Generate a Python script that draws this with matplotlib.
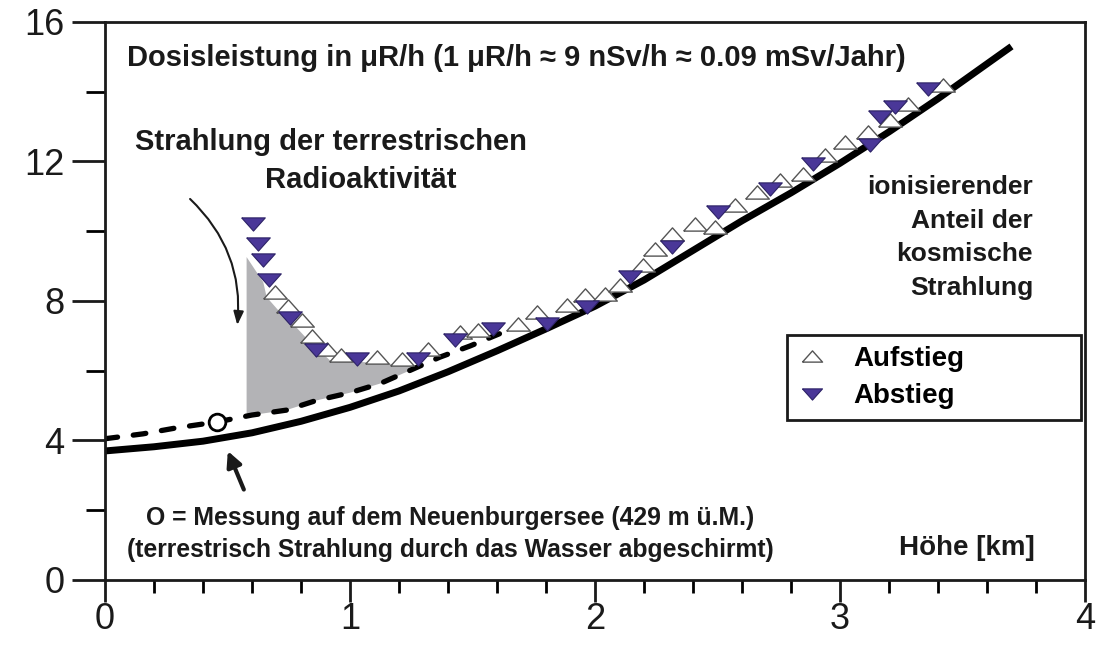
import numpy as np
import matplotlib.pyplot as plt
from matplotlib.ticker import MultipleLocator

plt.rcParams['font.family'] = ['Liberation Sans', 'DejaVu Sans']

# Messpunkte beim Aufstieg (offene Dreiecke)
auf_x = [0.694, 0.748, 0.803, 0.846, 0.905, 0.962, 1.109, 1.211, 1.320, 1.449,
         1.524, 1.687, 1.762, 1.884, 1.959, 2.041, 2.102, 2.197, 2.245, 2.313,
         2.408, 2.490, 2.571, 2.660, 2.755, 2.850, 2.939, 3.020, 3.116, 3.204,
         3.279, 3.422]
auf_y = [8.27, 7.87, 7.45, 7.00, 6.63, 6.44, 6.39, 6.33, 6.63, 7.11,
         7.16, 7.35, 7.68, 7.88, 8.16, 8.21, 8.45, 9.02, 9.50, 9.93,
         10.22, 10.12, 10.74, 11.13, 11.46, 11.65, 12.18, 12.56, 12.85, 13.18,
         13.66, 14.18]

# Messpunkte beim Abstieg (gefuellte Dreiecke)
ab_x = [0.605, 0.626, 0.644, 0.671, 0.755, 0.861, 1.027, 1.279, 1.429, 1.585,
        1.803, 1.966, 2.143, 2.313, 2.503, 2.714, 2.891, 3.122, 3.163, 3.224,
        3.361]
ab_y = [10.22, 9.63, 9.17, 8.61, 7.50, 6.59, 6.33, 6.35, 6.87, 7.21,
        7.35, 7.83, 8.69, 9.55, 10.55, 11.22, 11.94, 12.46, 13.28, 13.56,
        14.09]

# kosmische Strahlung (durchgezogen)
kosm_x = [0, 0.2, 0.4, 0.6, 0.8, 1.0, 1.2, 1.4, 1.6, 1.8, 2.0, 2.2, 2.4, 2.6,
          2.8, 3.0, 3.2, 3.4, 3.7]
kosm_y = [3.70, 3.82, 3.98, 4.22, 4.55, 4.95, 5.42, 5.97, 6.57, 7.20, 7.85,
          8.60, 9.45, 10.30, 11.10, 11.95, 12.85, 13.80, 15.30]

# gestrichelte Kurve
dash_x = [0, 0.155, 0.29, 0.456, 0.60, 0.74, 0.864, 1.0, 1.122, 1.245, 1.367,
          1.49, 1.61]
dash_y = [4.05, 4.19, 4.36, 4.53, 4.73, 4.87, 5.15, 5.37, 5.63, 6.01, 6.39,
          6.71, 7.06]

# Messung auf dem Neuenburgersee
see_x = [0.456]
see_y = [4.53]

# graue Flaeche (terrestrischer Anteil)
area_top_x = [0.578, 0.646, 0.66, 0.714, 0.78, 0.837, 0.918, 1.05, 1.245, 1.26]
area_top_y = [9.26, 8.54, 8.11, 7.68, 7.25, 6.82, 6.30, 6.25, 6.16, 6.02]
area_bot_x = [1.245, 1.122, 1.0, 0.864, 0.74, 0.6, 0.578]
area_bot_y = [6.01, 5.63, 5.37, 5.15, 4.87, 4.73, 4.70]

purple = '#4a3798'
up_tri = [(-1, -0.56), (1, -0.56), (0, 0.56), (-1, -0.56)]
down_tri = [(-1, 0.56), (1, 0.56), (0, -0.56), (-1, 0.56)]

fig = plt.figure(figsize=(11.04, 6.45), dpi=100)
ax = fig.add_axes([0.0951, 0.1008, 0.8877, 0.8651])

ax.fill(area_top_x + area_bot_x, area_top_y + area_bot_y,
        color='#b3b3b6', lw=0, zorder=1)
ax.plot(kosm_x, kosm_y, color='black', lw=5, solid_capstyle='butt',
        solid_joinstyle='round', zorder=2)
ax.plot(dash_x, dash_y, color='black', lw=3.8, dashes=(2.4, 3.0),
        dash_capstyle='round', zorder=2)
ax.plot(see_x, see_y, 'o', ms=12, mfc='white', mec='black', mew=2, zorder=3)

ax.plot(auf_x, auf_y, ls='none', marker=up_tri, ms=17, mfc='white',
        mec='#555555', mew=1, zorder=4, label='Aufstieg')
ax.plot(ab_x, ab_y, ls='none', marker=down_tri, ms=17, mfc=purple,
        mec='#2c2266', mew=0.8, zorder=5, label='Abstieg')

ax.set_xlim(0, 4)
ax.set_ylim(0, 16)
ax.xaxis.set_major_locator(MultipleLocator(1))
ax.xaxis.set_minor_locator(MultipleLocator(0.2))
ax.yaxis.set_major_locator(MultipleLocator(4))
ax.yaxis.set_minor_locator(MultipleLocator(2))
for s in ax.spines.values():
    s.set_linewidth(2)
    s.set_color('#1a1a1a')
ax.tick_params(axis='y', which='major', direction='out', length=24, width=2,
               labelsize=26, pad=5, colors='#1a1a1a')
ax.tick_params(axis='y', which='minor', direction='out', length=14, width=2)
ax.tick_params(axis='x', which='major', direction='out', length=16, width=2,
               labelsize=26, pad=0, colors='#1a1a1a')
ax.tick_params(axis='x', which='minor', direction='out', length=9, width=2)

bold = dict(fontweight='bold', color='#1a1a1a')
ax.text(0.09, 14.97, 'Dosisleistung in \u03bcR/h (1 \u03bcR/h \u2248 9 nSv/h \u2248 0.09 mSv/Jahr)',
        fontsize=21, va='center', ha='left', **bold)
ax.text(0.122, 12.56, 'Strahlung der terrestrischen', fontsize=21,
        va='center', ha='left', **bold)
ax.text(0.653, 11.47, 'Radioaktivit\u00e4t', fontsize=21,
        va='center', ha='left', **bold)
ax.text(3.788, 11.6, 'ionisierender\nAnteil der\nkosmische\nStrahlung',
        fontsize=19, ha='right', va='top', multialignment='right',
        linespacing=1.5, **bold)
ax.text(1.408, 1.78, 'O = Messung auf dem Neuenburgersee (429 m \u00fc.M.)',
        fontsize=17.8, ha='center', va='center', **bold)
ax.text(1.408, 0.86, '(terrestrisch Strahlung durch das Wasser abgeschirmt)',
        fontsize=17.8, ha='center', va='center', **bold)
ax.text(3.796, 0.92, 'H\u00f6he [km]', fontsize=20, ha='right', va='center', **bold)

ax.annotate('', xy=(0.539, 7.23), xytext=(0.339, 10.98),
            arrowprops=dict(arrowstyle='-|>,head_length=0.8,head_width=0.3',
                            color='#1a1a1a', lw=1.5,
                            connectionstyle='arc3,rad=-0.25'))
ax.annotate('', xy=(0.497, 3.77), xytext=(0.571, 2.52),
            arrowprops=dict(arrowstyle='-|>,head_length=0.9,head_width=0.45',
                            color='#1a1a1a', lw=3))

leg = ax.legend(loc='upper left', bbox_to_anchor=(0.696, 0.285, 0.300, 0.154),
                mode='expand', borderaxespad=0, fancybox=False,
                edgecolor='#1a1a1a', framealpha=1,
                prop=dict(weight='bold', size=20), markerscale=0.85,
                handlelength=1.0, handletextpad=1.0,
                borderpad=0.4, labelspacing=0.4)
leg.get_frame().set_linewidth(2)

fig.savefig('out.png', dpi=100)
